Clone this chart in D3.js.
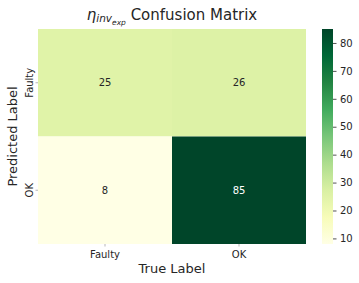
<!DOCTYPE html>
<html>
<head>
<meta charset="utf-8">
<script src="https://cdn.jsdelivr.net/npm/d3@7"></script>
<style>
body { margin: 0; background: #fff; }
text { font-family: "DejaVu Sans", sans-serif; }
</style>
</head>
<body>
<div id="chart"></div>
<script>
var width = 359,
	height = 283;

// data
var trueLabels = ["Faulty", "OK"];
var predLabels = ["Faulty", "OK"];
var counts = [[25, 26], [8, 85]];   // rows = predicted, cols = true
var cbarTicks = [10, 20, 30, 40, 50, 60, 70, 80];
var ylgn = ["#ffffe5", "#f7fcb9", "#d9f0a3", "#addd8e", "#78c679", "#41ab5d", "#238443", "#006837", "#004529"];

var cells = [];
counts.forEach(function(row, i) {
	row.forEach(function(v, j) {
		cells.push({pred: predLabels[i], truth: trueLabels[j], value: v});
	});
});

// plot box
var mLeft = 38, mRight = 306, mTop = 29, mBottom = 244;

var vmin = d3.min(cells, function(d) { return d.value; });
var vmax = d3.max(cells, function(d) { return d.value; });

var color = d3.scaleLinear()
	.domain(ylgn.map(function(c, i) { return vmin + (vmax - vmin) * i / (ylgn.length - 1); }))
	.range(ylgn)
	.interpolate(d3.interpolateRgb);

var x = d3.scaleBand().domain(trueLabels).range([mLeft, mRight]);
var y = d3.scaleBand().domain(predLabels).range([mTop, mBottom]);

var svg = d3.select("#chart").append("svg")
	.attr("width", width)
	.attr("height", height);

svg.selectAll("rect.cell")
	.data(cells)
	.enter()
	.append("rect")
	.attr("class", "cell")
	.attr("x", function(d) { return x(d.truth); })
	.attr("y", function(d) { return y(d.pred); })
	.attr("width", x.bandwidth())
	.attr("height", y.bandwidth())
	.attr("fill", function(d) { return color(d.value); });

svg.selectAll("text.val")
	.data(cells)
	.enter()
	.append("text")
	.attr("class", "val")
	.attr("x", function(d) { return x(d.truth) + x.bandwidth() / 2; })
	.attr("y", function(d) { return y(d.pred) + y.bandwidth() / 2; })
	.attr("dy", "0.35em")
	.attr("text-anchor", "middle")
	.attr("font-size", 10)
	.attr("fill", function(d) { return d.value > (vmin + vmax) / 2 ? "#fff" : "#262626"; })
	.text(function(d) { return d.value; });

// axes
var xAxis = svg.append("g")
	.attr("transform", "translate(0," + mBottom + ")")
	.call(d3.axisBottom(x).tickSize(2.5).tickPadding(4.5));
var yAxis = svg.append("g")
	.attr("transform", "translate(" + mLeft + ",0)")
	.call(d3.axisLeft(y).tickSize(2.5).tickPadding(3.5));
[xAxis, yAxis].forEach(function(g) {
	g.select(".domain").remove();
	g.selectAll("line").attr("stroke", "#888").attr("stroke-width", 0.6);
	g.selectAll("text").attr("font-family", "DejaVu Sans").attr("font-size", 10).attr("fill", "#262626");
});
yAxis.selectAll(".tick text")
	.attr("text-anchor", "middle")
	.attr("x", null)
	.attr("dy", null)
	.attr("transform", "translate(-5,0) rotate(-90)");

// colorbar
var cbLeft = 322, cbRight = 333;
var cbScale = d3.scaleLinear().domain([vmin, vmax]).range([mBottom, mTop]);
var defs = svg.append("defs");
var grad = defs.append("linearGradient")
	.attr("id", "cbgrad")
	.attr("x1", 0).attr("y1", 1).attr("x2", 0).attr("y2", 0);
ylgn.forEach(function(c, i) {
	grad.append("stop").attr("offset", i / (ylgn.length - 1)).attr("stop-color", c);
});
svg.append("rect")
	.attr("x", cbLeft)
	.attr("y", mTop)
	.attr("width", cbRight - cbLeft)
	.attr("height", mBottom - mTop)
	.attr("fill", "url(#cbgrad)");
var cbAxis = svg.append("g")
	.attr("transform", "translate(" + cbRight + ",0)")
	.call(d3.axisRight(cbScale).tickValues(cbarTicks).tickSize(3.5).tickPadding(3.5));
cbAxis.select(".domain").remove();
cbAxis.selectAll("line").attr("stroke", "#262626").attr("stroke-width", 0.8);
cbAxis.selectAll("text").attr("font-family", "DejaVu Sans").attr("font-size", 10).attr("fill", "#262626");

// labels
svg.append("text")
	.attr("x", (mLeft + mRight) / 2)
	.attr("y", 273)
	.attr("text-anchor", "middle")
	.attr("font-size", 13)
	.attr("fill", "#262626")
	.text("True Label");

svg.append("text")
	.attr("transform", "translate(17," + ((mTop + mBottom) / 2) + ") rotate(-90)")
	.attr("text-anchor", "middle")
	.attr("font-size", 13)
	.attr("fill", "#262626")
	.text("Predicted Label");

// title with math subscripts
var title = svg.append("text")
	.attr("x", (mLeft + mRight) / 2)
	.attr("y", 19.5)
	.attr("text-anchor", "middle")
	.attr("font-size", 15)
	.attr("fill", "#262626");
title.append("tspan").attr("font-style", "italic").text("η");
title.append("tspan").attr("font-style", "italic").attr("font-size", 10.5).attr("dy", 2.5).text("inv");
title.append("tspan").attr("font-style", "italic").attr("font-size", 7.5).attr("dy", 3).text("exp");
title.append("tspan").attr("dy", -5.5).text(" Confusion Matrix");
</script>
</body>
</html>
